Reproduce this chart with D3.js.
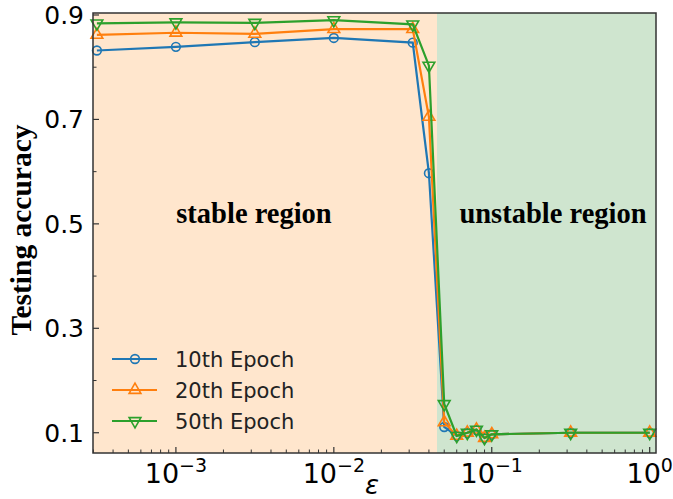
<!DOCTYPE html>
<html>
<head>
<meta charset="utf-8">
<script src="https://cdn.jsdelivr.net/npm/d3@7"></script>
<style>
  body { margin: 0; background: #fff; }
  svg text { fill: #000; }
</style>
</head>
<body>
<div id="chart"></div>
<script>
// epsilon values (log axis)
var eps = [3.16e-4, 1e-3, 3.16e-3, 1e-2, 3.16e-2, 0.04, 0.05, 0.06, 0.07, 0.08, 0.09, 0.1, 0.316, 1];
var acc10 = [0.832, 0.839, 0.848, 0.856, 0.847, 0.597, 0.111, 0.094, 0.100, 0.105, 0.090, 0.097, 0.100, 0.100];
var acc20 = [0.862, 0.866, 0.864, 0.873, 0.873, 0.705, 0.120, 0.094, 0.100, 0.106, 0.090, 0.097, 0.100, 0.100];
var acc50 = [0.884, 0.886, 0.885, 0.890, 0.882, 0.803, 0.155, 0.094, 0.100, 0.106, 0.090, 0.097, 0.100, 0.100];
var seriesNames = ['10th Epoch', '20th Epoch', '50th Epoch'];
var yTicks = [0.1, 0.3, 0.5, 0.7, 0.9];
var yMinor = [0.2, 0.4, 0.6, 0.8];
var xTickExp = [-3, -2, -1, 0];
var boundary = 0.045;

var width = 673, height = 499;
var margin = { left: 93, top: 13, right: 17, bottom: 46 };
var plotW = width - margin.left - margin.right;
var plotH = height - margin.top - margin.bottom;

var svg = d3.select('#chart').append('svg')
    .attr('width', width)
    .attr('height', height);

var x = d3.scaleLog()
    .domain([Math.pow(10, -3.525), Math.pow(10, 0.04)])
    .range([margin.left, margin.left + plotW]);
var y = d3.scaleLinear()
    .domain([0.0612, 0.9038])
    .range([margin.top + plotH, margin.top]);

var x0 = x.domain()[0], x1 = x.domain()[1];

// REGIONS
svg.append('rect')
    .attr('x', x(x0)).attr('y', margin.top)
    .attr('width', x(boundary) - x(x0)).attr('height', plotH)
    .attr('fill', '#ffe6cd');
svg.append('rect')
    .attr('x', x(boundary)).attr('y', margin.top)
    .attr('width', x(x1) - x(boundary)).attr('height', plotH)
    .attr('fill', '#cfe5cf');

svg.append('text')
    .attr('x', 254).attr('y', 223)
    .attr('text-anchor', 'middle')
    .style('font-family', '"Liberation Serif", serif')
    .style('font-weight', 'bold')
    .style('font-size', '28.5px')
    .text('stable region');
svg.append('text')
    .attr('x', 553).attr('y', 223)
    .attr('text-anchor', 'middle')
    .style('font-family', '"Liberation Serif", serif')
    .style('font-weight', 'bold')
    .style('font-size', '28.5px')
    .text('unstable region');

// TICKS
var tickColor = '#333';
var g = svg.append('g');
yTicks.forEach(function (t) {
    g.append('line')
        .attr('x1', margin.left).attr('x2', margin.left + 6)
        .attr('y1', y(t)).attr('y2', y(t))
        .attr('stroke', tickColor).attr('stroke-width', 1.2);
    g.append('text')
        .attr('x', margin.left - 9).attr('y', y(t) + 9)
        .attr('text-anchor', 'end')
        .style('font-family', '"DejaVu Sans", sans-serif')
        .style('font-size', '25px')
        .text(t.toFixed(1));
});
yMinor.forEach(function (t) {
    g.append('line')
        .attr('x1', margin.left).attr('x2', margin.left + 3.5)
        .attr('y1', y(t)).attr('y2', y(t))
        .attr('stroke', tickColor).attr('stroke-width', 1);
});

var base = margin.top + plotH;
for (var e = -4; e <= 0; e++) {
    for (var m = 1; m < 10; m++) {
        var v = m * Math.pow(10, e);
        if (v < x0 || v > x1) continue;
        var major = (m === 1);
        g.append('line')
            .attr('x1', x(v)).attr('x2', x(v))
            .attr('y1', base).attr('y2', base - (major ? 6 : 3.5))
            .attr('stroke', tickColor).attr('stroke-width', major ? 1.2 : 1);
    }
}
xTickExp.forEach(function (ex) {
    var t = g.append('text')
        .attr('x', x(Math.pow(10, ex)))
        .attr('y', 483)
        .attr('text-anchor', 'middle')
        .style('font-family', '"DejaVu Sans", sans-serif')
        .style('font-size', '27px');
    t.append('tspan').text('10');
    t.append('tspan')
        .attr('dy', -11)
        .style('font-size', '19px')
        .text(ex === 0 ? '0' : '\u2212' + Math.abs(ex));
});

// AXIS LABELS
svg.append('text')
    .attr('transform', 'translate(31,230) rotate(-90)')
    .attr('text-anchor', 'middle')
    .style('font-family', '"Liberation Serif", serif')
    .style('font-weight', 'bold')
    .style('font-size', '29.5px')
    .text('Testing accuracy');
svg.append('text')
    .attr('x', 372).attr('y', 494)
    .attr('text-anchor', 'middle')
    .style('font-family', '"DejaVu Sans", sans-serif')
    .style('font-style', 'italic')
    .style('font-size', '26px')
    .text('\u03b5');

// SERIES
var colors = ['#1f77b4', '#ff7f0e', '#2ca02c'];
var shapes = [d3.symbolCircle, d3.symbolTriangle, d3.symbolTriangle];
var rotations = [0, 0, 180];
var allSeries = [acc10, acc20, acc50].map(function (vals, i) {
    return vals.map(function (v, j) { return { x: eps[j], y: v }; });
});

var line = d3.line()
    .x(function (d) { return x(d.x); })
    .y(function (d) { return y(d.y); });

var symbolSize = [60, 60, 60];

allSeries.forEach(function (data, i) {
    var sg = svg.append('g');
    sg.append('path')
        .datum(data)
        .attr('d', line)
        .attr('fill', 'none')
        .attr('stroke', colors[i])
        .attr('stroke-width', 2.2);
    sg.selectAll('path.marker')
        .data(data).enter()
        .append('path')
        .attr('class', 'marker')
        .attr('d', d3.symbol().type(shapes[i]).size(symbolSize[i]))
        .attr('transform', function (d) {
            return 'translate(' + x(d.x) + ',' + y(d.y) + ') rotate(' + rotations[i] + ')';
        })
        .attr('fill', 'none')
        .attr('stroke', colors[i])
        .attr('stroke-width', 1.6);
});

// LEGEND
var legendY = [359, 390, 421];
seriesNames.forEach(function (name, i) {
    var lg = svg.append('g');
    lg.append('line')
        .attr('x1', 112).attr('x2', 157)
        .attr('y1', legendY[i]).attr('y2', legendY[i])
        .attr('stroke', colors[i]).attr('stroke-width', 2.2);
    lg.append('path')
        .attr('d', d3.symbol().type(shapes[i]).size(symbolSize[i]))
        .attr('transform', 'translate(135,' + legendY[i] + ') rotate(' + rotations[i] + ')')
        .attr('fill', 'none')
        .attr('stroke', colors[i])
        .attr('stroke-width', 1.6);
    lg.append('text')
        .attr('x', 175).attr('y', legendY[i] + 7.5)
        .style('font-family', '"DejaVu Sans", sans-serif')
        .style('font-size', '21px')
        .style('fill', '#222')
        .text(name);
});

// FRAME
svg.append('rect')
    .attr('x', margin.left).attr('y', margin.top)
    .attr('width', plotW).attr('height', plotH)
    .attr('fill', 'none')
    .attr('stroke', '#333')
    .attr('stroke-width', 1.5);
</script>
</body>
</html>
